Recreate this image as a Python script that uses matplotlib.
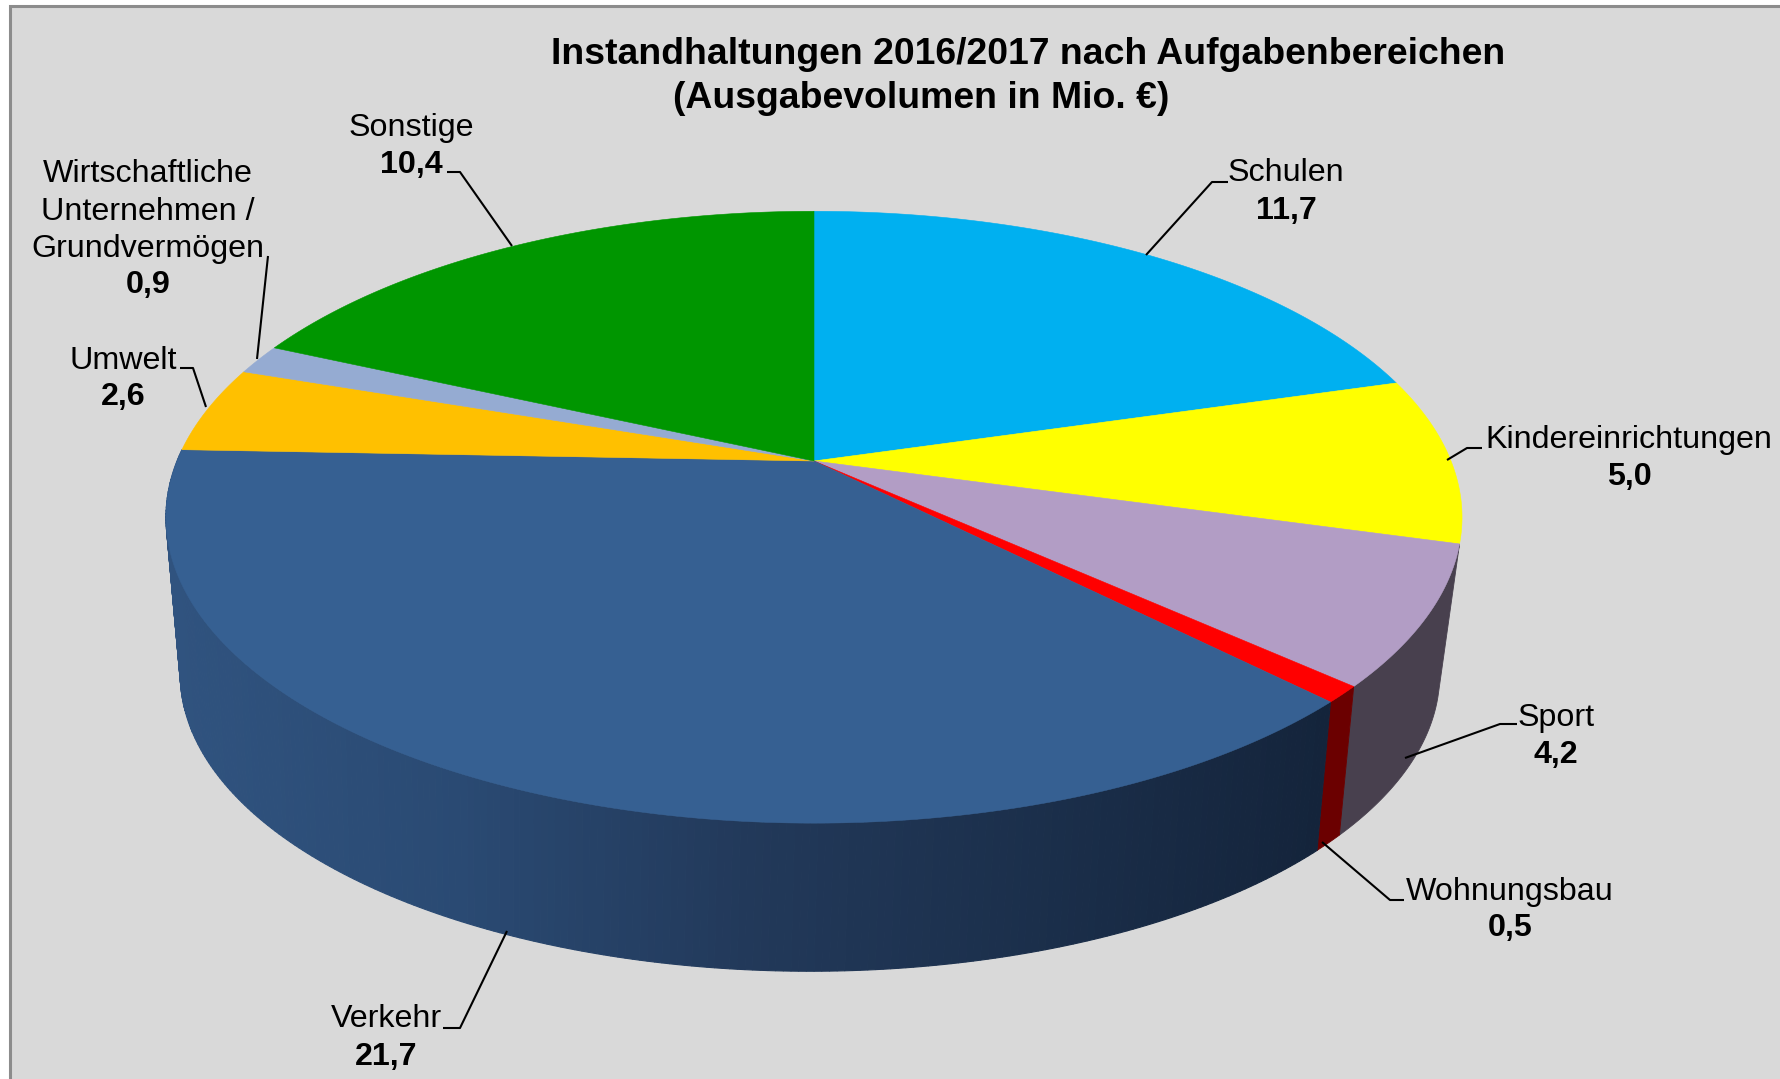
import numpy as np
import matplotlib
matplotlib.use("Agg")
import matplotlib.pyplot as plt
from matplotlib.colors import LinearSegmentedColormap
from matplotlib.patches import Polygon, Rectangle

plt.rcParams['font.family'] = ['Liberation Sans', 'DejaVu Sans']

# slices clockwise from 12 o'clock
names = ["Schulen", "Kindereinrichtungen", "Sport", "Wohnungsbau", "Verkehr",
         "Umwelt", "Wirtschaftliche\nUnternehmen /\nGrundvermögen", "Sonstige"]
values = [11.7, 5.0, 4.2, 0.5, 21.7, 2.6, 0.9, 10.4]
top_colors = ["#00b0f0", "#ffff00", "#b29dc5", "#ff0000", "#366092", "#ffc000", "#95abd2", "#009600"]
wall_colors = [None, None, "#48404e", "#6b0000", None, None, None, None]

# name label centre, value label y, leader line
label_pos = [(1286, 173), (1629, 440), (1556, 718), (1510, 892), (386, 1019), (123, 361), (148, 174), (411, 128)]
value_y = [211, 477, 755, 928, 1057, 397, 285, 165]
leaders = [
    [(1228, 182), (1212, 182), (1146, 255)],
    [(1482, 448), (1467, 448), (1447, 460)],
    [(1517, 724), (1500, 724), (1405, 758)],
    [(1404, 900), (1390, 900), (1322, 842)],
    [(443, 1028), (460, 1028), (507, 931)],
    [(180, 368), (193, 368), (206, 407)],
    [(268, 256), (257, 359)],
    [(447, 172), (460, 172), (512, 246)],
]

# left to right across the Verkehr wall
verkehr_shade = LinearSegmentedColormap.from_list(
    "verkehr", ["#30537f", "#2a4a73", "#22395a", "#1b2f4b", "#14243b"])


def top_face(theta):
    # perspective view of the disc, theta clockwise from the back
    u, v = np.sin(theta), np.cos(theta)
    d = 1 + 0.1837 * v
    return 814 + 637 * u / d, 461 - 295.6 * v / d


def bottom_face(theta):
    u, v = np.sin(theta), np.cos(theta)
    d = 1 + 0.2 * v
    return 810 + 617 * u / d, 615 - 285 * v / d


def wall_quad(a0, a1, n):
    s = np.linspace(a0, a1, n)
    tx, ty = top_face(s)
    bx, by = bottom_face(s[::-1])
    return np.column_stack([np.r_[tx, bx], np.r_[ty, by]])


fig = plt.figure(figsize=(17.8, 10.79), dpi=100, facecolor="white")
ax = fig.add_axes([0, 0, 1, 1])
ax.set_xlim(0, 1780)
ax.set_ylim(1079, 0)
ax.axis("off")
ax.add_patch(Rectangle((10, 6), 1790, 1090, fc="#d9d9d9", ec="#8c8c8c", lw=2.2, zorder=0))

edges = np.concatenate([[0], np.cumsum(values)]) / sum(values) * 2 * np.pi

# side wall, only the part facing the viewer
for i in range(len(values)):
    a0, a1 = edges[i], edges[i + 1]
    if names[i] == "Verkehr":
        steps = np.linspace(a0, a1, 241)
        xs = top_face((steps[:-1] + steps[1:]) / 2)[0]
        shade = (xs - xs.min()) / (xs.max() - xs.min())
        for s0, s1, f in zip(steps[:-1], steps[1:], shade):
            col = verkehr_shade(f)
            ax.add_patch(Polygon(wall_quad(s0, s1, 2), fc=col, ec=col, lw=0.8, zorder=2))
    elif wall_colors[i]:
        ax.add_patch(Polygon(wall_quad(a0, a1, 60), fc=wall_colors[i], ec=wall_colors[i],
                             lw=0.6, zorder=2))

# top of the pie
for i in range(len(values)):
    tx, ty = top_face(np.linspace(edges[i], edges[i + 1], 200))
    pts = np.column_stack([np.r_[814, tx], np.r_[461, ty]])
    ax.add_patch(Polygon(pts, fc=top_colors[i], ec=top_colors[i], lw=0.4, zorder=3))

for line in leaders:
    ax.plot(*zip(*line), color="black", lw=1.5, zorder=4, solid_capstyle="butt")

fs = 23.2
for name, val, (x, y), vy in zip(names, values, label_pos, value_y):
    for j, part in enumerate(name.split("\n")):
        ax.text(x, y + j * 37.5, part, ha="center", va="center", fontsize=fs, zorder=5)
    ax.text(x, vy, f"{val:.1f}".replace(".", ","), ha="center", va="center",
            fontsize=fs, fontweight="bold", zorder=5)

ax.text(1028, 54, "Instandhaltungen 2016/2017 nach Aufgabenbereichen", ha="center", va="center",
        fontsize=26.9, fontweight="bold", zorder=5)
ax.text(673, 99, "(Ausgabevolumen in Mio. €", ha="left", va="center",
        fontsize=26.9, fontweight="bold", zorder=5)
ax.text(1169, 99, ")", ha="right", va="center", fontsize=26.9, fontweight="bold", zorder=5)

fig.savefig("out.png", dpi=100, facecolor="white")
